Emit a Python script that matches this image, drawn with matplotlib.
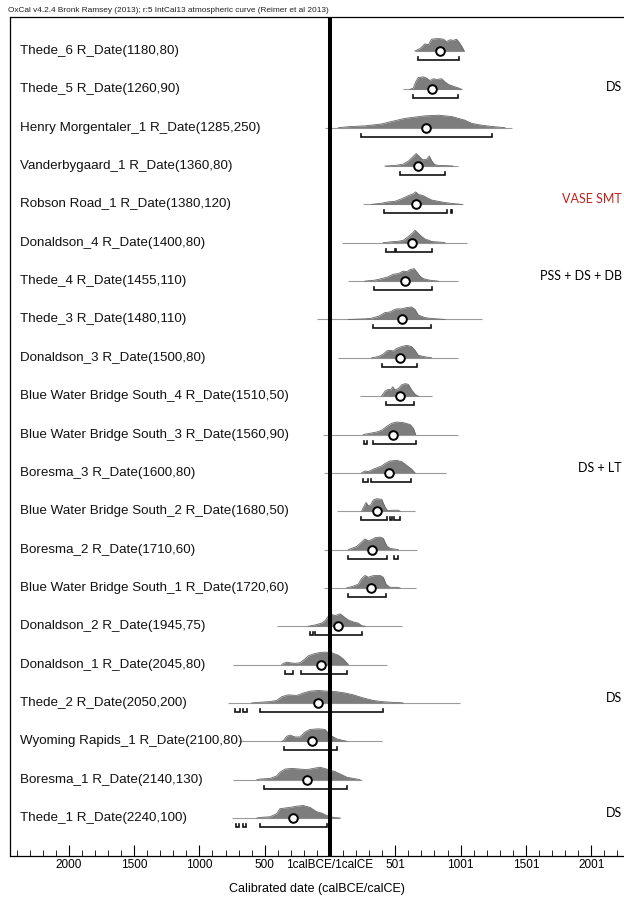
import matplotlib
matplotlib.use("Agg")
import matplotlib.pyplot as plt
from matplotlib.transforms import blended_transform_factory
from matplotlib.ticker import FixedLocator, MultipleLocator

# Sample names (top to bottom)
labels = [
    "Thede_6 R_Date(1180,80)",
    "Thede_5 R_Date(1260,90)",
    "Henry Morgentaler_1 R_Date(1285,250)",
    "Vanderbygaard_1 R_Date(1360,80)",
    "Robson Road_1 R_Date(1380,120)",
    "Donaldson_4 R_Date(1400,80)",
    "Thede_4 R_Date(1455,110)",
    "Thede_3 R_Date(1480,110)",
    "Donaldson_3 R_Date(1500,80)",
    "Blue Water Bridge South_4 R_Date(1510,50)",
    "Blue Water Bridge South_3 R_Date(1560,90)",
    "Boresma_3 R_Date(1600,80)",
    "Blue Water Bridge South_2 R_Date(1680,50)",
    "Boresma_2 R_Date(1710,60)",
    "Blue Water Bridge South_1 R_Date(1720,60)",
    "Donaldson_2 R_Date(1945,75)",
    "Donaldson_1 R_Date(2045,80)",
    "Thede_2 R_Date(2050,200)",
    "Wyoming Rapids_1 R_Date(2100,80)",
    "Boresma_1 R_Date(2140,130)",
    "Thede_1 R_Date(2240,100)",
]

# Posterior means (calendar years, negative = BCE)
means = [842, 778, 732, 674, 656, 630, 574, 548, 536, 536, 485,
         454, 357, 324, 314, 59, -69, -89, -140, -179, -286]

# 95.4% ranges
ranges_95 = [
    [(671, 990)],
    [(633, 977)],
    [(235, 1237)],
    [(536, 881)],
    [(411, 893), (925, 935)],
    [(431, 500), (505, 778)],
    [(337, 778)],
    [(332, 770)],
    [(395, 663)],
    [(429, 643)],
    [(263, 281), (327, 658)],
    [(255, 293), (311, 618)],
    [(237, 434), (459, 472), (490, 536)],
    [(140, 434), (490, 523)],
    [(135, 429)],
    [(-150, -128), (-115, 242)],
    [(-344, -286), (-222, 133)],
    [(-727, -689), (-664, -633), (-536, 403)],
    [(-352, 56)],
    [(-503, 133)],
    [(-720, -694), (-664, -646), (-536, -26)],
]

# Extent of each calibrated range
spans = [
    (650, 1028), (561, 1013), (-38, 1390), (421, 980), (253, 1018),
    (89, 1046), (140, 982), (-102, 1161), (64, 982), (230, 778),
    (-54, 980), (-46, 888), (51, 651), (-46, 664), (-46, 656),
    (-408, 548), (-740, 434), (-781, 995), (-700, 396), (-740, 242),
    (-753, 77),
]

# Calibrated probability (relative) as (year, height) pairs
thede_6 = [(650, 0), (689, 0.2), (727, 0.57), (753, 0.5), (778, 0.95), (829, 1.0),
           (867, 0.95), (893, 0.75), (918, 0.9), (944, 0.85), (969, 0.95),
           (995, 0.6), (1013, 0.3), (1028, 0)]
thede_5 = [(612, 0), (638, 0.1), (656, 0.6), (676, 0.95), (714, 1.0), (740, 0.9),
           (765, 0.7), (791, 0.85), (816, 0.8), (855, 0.85), (880, 0.6),
           (906, 0.4), (931, 0.3), (957, 0.2), (982, 0.12), (1008, 0)]
henry_1 = [(64, 0), (140, 0.08), (268, 0.15), (395, 0.3), (472, 0.5), (574, 0.75),
           (651, 0.85), (727, 0.95), (829, 1.0), (931, 0.9), (982, 0.75),
           (1033, 0.6), (1084, 0.35), (1161, 0.2), (1237, 0.1), (1314, 0.03),
           (1340, 0)]
vanderbygaard_1 = [(421, 0), (500, 0.05), (560, 0.15), (600, 0.4), (630, 0.7),
                   (660, 1.0), (680, 0.8), (710, 0.5), (740, 0.55), (760, 0.8),
                   (780, 0.4), (800, 0.12), (830, 0.05), (900, 0.03), (942, 0)]
robson_1 = [(319, 0), (395, 0.1), (446, 0.2), (497, 0.25), (548, 0.45), (599, 0.7),
            (638, 0.85), (656, 1.0), (676, 0.8), (714, 0.7), (740, 0.55),
            (778, 0.35), (829, 0.25), (880, 0.15), (957, 0.05), (1008, 0)]
donaldson_4 = [(408, 0), (472, 0.08), (523, 0.12), (561, 0.2), (587, 0.4),
               (612, 0.6), (638, 0.85), (651, 1.0), (676, 0.75), (702, 0.5),
               (727, 0.3), (740, 0.25), (758, 0.2), (778, 0.1), (855, 0.04), (880, 0)]
thede_4 = [(268, 0), (344, 0.08), (395, 0.2), (446, 0.35), (485, 0.55), (523, 0.6),
           (561, 0.8), (587, 0.75), (612, 0.92), (645, 1.0), (663, 0.75),
           (689, 0.4), (714, 0.2), (753, 0.1), (778, 0.05), (829, 0)]
thede_3 = [(140, 0), (268, 0.05), (319, 0.1), (370, 0.25), (421, 0.55), (459, 0.6),
           (485, 0.75), (510, 0.85), (548, 0.85), (587, 0.95), (625, 1.0),
           (651, 0.8), (676, 0.35), (727, 0.15), (778, 0.08), (880, 0)]
donaldson_3 = [(319, 0), (370, 0.1), (408, 0.3), (434, 0.55), (459, 0.6),
               (485, 0.55), (510, 0.75), (548, 0.9), (587, 1.0), (625, 0.9),
               (651, 0.6), (676, 0.2), (727, 0.08), (778, 0)]
bwbs_4 = [(395, 0), (421, 0.4), (446, 0.55), (464, 0.5), (480, 0.75), (497, 0.5),
          (523, 0.6), (548, 0.9), (574, 1.0), (599, 0.95), (625, 0.5),
          (651, 0.15), (676, 0)]
bwbs_3 = [(255, 0), (306, 0.1), (357, 0.2), (396, 0.35), (434, 0.65), (472, 0.9),
          (510, 1.0), (561, 0.95), (613, 0.8), (638, 0.5), (656, 0)]
boresma_3 = [(242, 0), (268, 0.15), (293, 0.1), (332, 0.3), (370, 0.45),
             (396, 0.55), (421, 0.75), (459, 0.95), (510, 1.0), (549, 0.9),
             (587, 0.6), (625, 0.3), (651, 0)]
bwbs_2 = [(242, 0), (255, 0.3), (276, 0.7), (293, 0.45), (311, 0.5), (332, 0.9),
          (357, 1.0), (396, 0.95), (421, 0.35), (439, 0.05), (459, 0.05),
          (485, 0.08), (523, 0.08), (536, 0)]
boresma_2 = [(140, 0), (179, 0.15), (204, 0.25), (242, 0.6), (268, 0.85),
             (293, 0.7), (319, 0.8), (345, 0.95), (383, 1.0), (408, 0.9),
             (434, 0.3), (459, 0.1), (485, 0.05), (523, 0)]
bwbs_1 = [(128, 0), (179, 0.15), (217, 0.3), (242, 0.75), (268, 1.0), (293, 0.85),
          (319, 0.95), (345, 1.0), (383, 1.0), (408, 0.85), (429, 0.3),
          (459, 0.05), (510, 0.05), (536, 0)]
donaldson_2 = [(-166, 0), (-115, 0.1), (-64, 0.25), (-38, 0.45), (-13, 0.8),
               (13, 0.95), (38, 0.85), (77, 1.0), (102, 0.8), (140, 0.5),
               (179, 0.35), (217, 0.25), (242, 0.05), (268, 0)]
donaldson_1 = [(-370, 0), (-357, 0.1), (-332, 0.2), (-306, 0.15), (-268, 0.1),
               (-230, 0.15), (-204, 0.35), (-166, 0.7), (-128, 0.85), (-89, 0.95),
               (-38, 1.0), (13, 0.95), (64, 0.75), (102, 0.45), (128, 0.15), (140, 0)]
thede_2 = [(-600, 0), (-549, 0.05), (-472, 0.1), (-408, 0.2), (-370, 0.5),
           (-319, 0.65), (-255, 0.6), (-204, 0.8), (-153, 0.95), (-89, 1.0),
           (-26, 0.95), (51, 0.9), (115, 0.8), (179, 0.65), (255, 0.4),
           (332, 0.2), (408, 0.1), (485, 0.05), (536, 0.03), (560, 0)]
wyoming_1 = [(-370, 0), (-357, 0.05), (-332, 0.4), (-306, 0.5), (-268, 0.35),
             (-230, 0.35), (-191, 0.75), (-153, 0.95), (-89, 1.0), (-38, 0.95),
             (0, 0.5), (51, 0.2), (89, 0.1), (128, 0)]
boresma_1 = [(-560, 0), (-536, 0.05), (-459, 0.1), (-408, 0.3), (-383, 0.6),
             (-345, 0.85), (-293, 0.9), (-230, 0.85), (-179, 0.8), (-128, 0.9),
             (-77, 1.0), (-26, 0.85), (38, 0.65), (89, 0.4), (128, 0.2),
             (179, 0.1), (230, 0)]
thede_1 = [(-560, 0), (-536, 0.05), (-459, 0.1), (-408, 0.35), (-383, 0.75),
           (-345, 0.8), (-306, 0.85), (-255, 0.95), (-204, 1.0), (-153, 0.85),
           (-102, 0.5), (-64, 0.4), (-26, 0.2), (26, 0.05), (77, 0)]

pdfs = [thede_6, thede_5, henry_1, vanderbygaard_1, robson_1, donaldson_4,
        thede_4, thede_3, donaldson_3, bwbs_4, bwbs_3, boresma_3, bwbs_2,
        boresma_2, bwbs_1, donaldson_2, donaldson_1, thede_2, wyoming_1,
        boresma_1, thede_1]

# Context notes on the right
note_text = ["DS", "VASE SMT", "PSS + DS + DB", "DS + LT", "DS", "DS"]
note_row = [1, 4, 6, 11, 17, 20]
note_color = ["black", "#c0241c", "black", "black", "black", "black"]

tick_years = [-2000, -1500, -1000, -500, 0, 500, 1000, 1500, 2000]
tick_labels = ["2000", "1500", "1000", "500", "1calBCE/1calCE", "501", "1001", "1501", "2001"]

plt.rcParams["font.family"] = ["Liberation Sans", "DejaVu Sans"]

W, H = 624, 898
fig = plt.figure(figsize=(W / 100, H / 100), dpi=100)
ax = fig.add_axes([10 / W, 1 - 856 / H, 1 - 10 / W, (856 - 17) / H])

row_px = 38.35
peak_h = 12.5 / row_px
bracket_off = 9.0 / row_px
bracket_tick = 3.0 / row_px

for i, pdf in enumerate(pdfs):
    y0 = i
    s0, s1 = spans[i]
    ax.plot([s0, s1], [y0, y0], color="#9a9a9a", lw=0.8, zorder=1,
            solid_capstyle="butt")
    xs = [p[0] for p in pdf]
    hs = [y0 - p[1] * peak_h for p in pdf]
    ax.fill_between(xs, y0, hs, color="#7d7d7d", lw=0, zorder=2)
    ax.plot(xs, hs, color="#666666", lw=0.6, zorder=2)
    yb = y0 + bracket_off
    for a, b in ranges_95[i]:
        ax.plot([a, a, b, b], [yb - bracket_tick, yb, yb, yb - bracket_tick],
                color="#111111", lw=1.2, zorder=3, solid_joinstyle="miter")
    ax.plot([means[i]], [y0], marker="o", ms=6.2, mfc="white", mec="black",
            mew=1.4, zorder=5, linestyle="none")

# Boundary between BCE and CE
ax.axvline(0, color="black", lw=2.9, zorder=4)

ax.set_xlim(-2450, 2251)
ax.set_ylim(20.99, -0.887)

label_tr = blended_transform_factory(fig.transFigure, ax.transData)
for i, name in enumerate(labels):
    ax.text(20 / W, i, name, transform=label_tr, ha="left", va="center",
            fontsize=9.6, color="#111111")

for txt, r, c in zip(note_text, note_row, note_color):
    dy = -0.06 if r == 1 else -0.14
    ax.text(622 / W, r + dy, txt, transform=label_tr, ha="right", va="center",
            fontsize=9, color=c, family=["Lato", "DejaVu Sans"])

ax.xaxis.set_major_locator(FixedLocator(tick_years))
ax.set_xticklabels(tick_labels)
ax.xaxis.set_minor_locator(MultipleLocator(100))
ax.tick_params(axis="x", which="major", direction="in", length=8, width=0.8,
               labelsize=8.5, pad=2)
ax.tick_params(axis="x", which="minor", direction="in", length=4, width=0.6)
ax.set_yticks([])
ax.spines["right"].set_visible(False)
for side in ("top", "left", "bottom"):
    ax.spines[side].set_linewidth(0.9)

ax.set_xlabel("Calibrated date (calBCE/calCE)", fontsize=9, labelpad=9)

fig.text(8 / W, 1 - 10 / H,
         "OxCal v4.2.4 Bronk Ramsey (2013); r:5 IntCal13 atmospheric curve (Reimer et al 2013)",
         ha="left", va="center", fontsize=5.95, color="#222222")

fig.savefig("out.png", dpi=100)
